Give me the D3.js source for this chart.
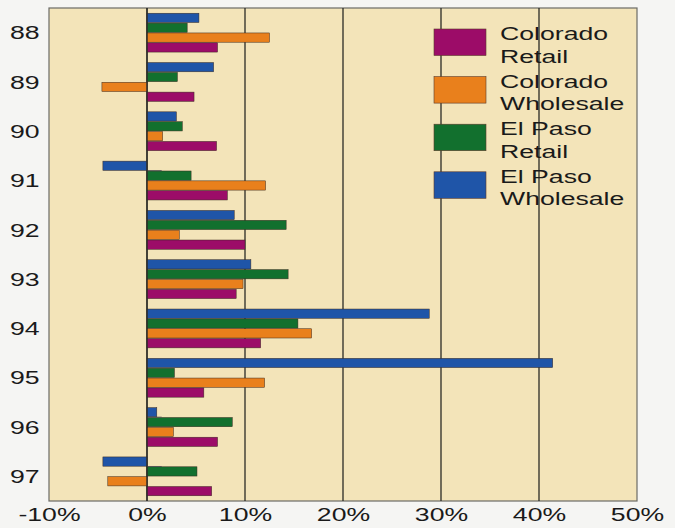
<!DOCTYPE html>
<html><head><meta charset="utf-8">
<script src="https://cdn.jsdelivr.net/npm/d3@7"></script>
<style>
html,body{margin:0;padding:0;background:#f5f5f3;}
svg{display:block;}
text{font-family:"Liberation Sans",Arial,Helvetica,sans-serif;fill:#1a1a1a;}
</style></head>
<body>
<svg id="chart" width="675" height="528"></svg>
<script>
const years = ["88","89","90","91","92","93","94","95","96","97"];
const seriesNames = ["El Paso Wholesale","El Paso Retail","Colorado Wholesale","Colorado Retail"];
const elPasoWholesale = [5.3, 6.8, 3.0, -4.5, 8.9, 10.6, 28.8, 41.4, 1.0, -4.5];
const elPasoRetail    = [4.1, 3.1, 3.6, 4.5, 14.2, 14.4, 15.4, 2.8, 8.7, 5.1];
const coloradoWholesale = [12.5, -4.6, 1.6, 12.1, 3.3, 9.8, 16.8, 12.0, 2.7, -4.0];
const coloradoRetail  = [7.2, 4.8, 7.1, 8.2, 10.0, 9.1, 11.6, 5.8, 7.2, 6.6];
const minorYears = ["91","96","97"];
const minorValues = [1.5, 1.5, 1.5];
const xTicks = [-10, 0, 10, 20, 30, 40, 50];
const legendOrder = ["Colorado Retail","Colorado Wholesale","El Paso Retail","El Paso Wholesale"];
const legendLines = [["Colorado","Retail"],["Colorado","Wholesale"],["El Paso","Retail"],["El Paso","Wholesale"]];

const colors = {
  "El Paso Wholesale":"#1f55a8",
  "El Paso Retail":"#12702e",
  "Colorado Wholesale":"#e9801c",
  "Colorado Retail":"#9c0c68"
};
const seriesValues = [elPasoWholesale, elPasoRetail, coloradoWholesale, coloradoRetail];

const svg = d3.select("#chart");
const L = 49, R = 637, T = 8, B = 501;
const FS = 18.5, SX = 1.44;

const x = d3.scaleLinear().domain([-10, 50]).range([L, R]);
const y0 = d3.scaleBand().domain(years).range([T, B]).paddingInner(0.2).paddingOuter(0.1);
const y1 = d3.scaleBand().domain(seriesNames).range([0, y0.bandwidth()]).padding(0);

// plot background
svg.append("rect").attr("x", L).attr("y", T).attr("width", R - L).attr("height", B - T)
  .attr("fill", "#f3e4b9").attr("stroke", "#6b6b66").attr("stroke-width", 1.2);

// grid lines
svg.append("g").selectAll("line").data(xTicks.filter(d => d > -10 && d < 50)).join("line")
  .attr("x1", d => x(d)).attr("x2", d => x(d)).attr("y1", T).attr("y2", B)
  .attr("stroke", "#2a2a26").attr("stroke-width", 1.3);

// legend
const lg = svg.append("g");
legendOrder.forEach((name, i) => {
  const top = 29 + i * 47.6;
  lg.append("rect").attr("x", 434).attr("y", top).attr("width", 52).attr("height", 26.5)
    .attr("fill", colors[name]).attr("stroke", "#5a3a2a").attr("stroke-width", 0.6);
  legendLines[i].forEach((t, j) => {
    lg.append("g").attr("transform", `translate(500,${top + 11 + j * 22.5}) scale(${SX},1)`)
      .append("text").attr("font-size", FS).text(t);
  });
});

// bars
const groups = svg.append("g").selectAll("g").data(years).join("g")
  .attr("transform", d => `translate(0,${y0(d)})`);
groups.selectAll("rect").data((d, i) => seriesNames.map((s, k) => ({s, v: seriesValues[k][i]}))).join("rect")
  .attr("x", d => x(Math.min(0, d.v)))
  .attr("width", d => Math.abs(x(d.v) - x(0)))
  .attr("y", d => y1(d.s) + 0.3)
  .attr("height", y1.bandwidth() - 0.6)
  .attr("fill", d => colors[d.s])
  .attr("stroke", "#3a2a20").attr("stroke-width", 0.5);

// minor thin marks (below the El Paso Wholesale bar)
svg.append("g").selectAll("line").data(minorYears.map((yr, i) => ({yr, v: minorValues[i]}))).join("line")
  .attr("x1", x(0)).attr("x2", d => x(d.v))
  .attr("y1", d => y0(d.yr) + y1("El Paso Wholesale") + y1.bandwidth())
  .attr("y2", d => y0(d.yr) + y1("El Paso Wholesale") + y1.bandwidth())
  .attr("stroke", "#555").attr("stroke-width", 1);

// zero line on top
svg.append("line").attr("x1", x(0)).attr("x2", x(0)).attr("y1", T).attr("y2", B)
  .attr("stroke", "#2a2a26").attr("stroke-width", 1.3);

// x axis labels
const xAxis = d3.axisBottom(x).tickValues(xTicks).tickSize(0).tickPadding(0).tickFormat(d => d + "%");
const gx = svg.append("g").attr("transform", `translate(0,${B})`).call(xAxis);
gx.select(".domain").remove();
gx.selectAll("text").attr("y", 20.5).attr("dy", 0).attr("font-size", FS)
  .attr("transform", `scale(${SX},1)`)
  .style("font-family", '"Liberation Sans",Arial,sans-serif').attr("fill", "#1a1a1a");

// y axis labels
const yAxis = d3.axisLeft(y0).tickSize(0).tickPadding(0);
const gy = svg.append("g").attr("transform", `translate(39.5,0)`).call(yAxis);
gy.select(".domain").remove();
gy.selectAll("text").attr("x", 0).attr("dy", "0.36em").attr("font-size", FS)
  .attr("transform", `scale(${SX},1)`)
  .style("font-family", '"Liberation Sans",Arial,sans-serif').attr("fill", "#1a1a1a");
</script>
</body></html>
